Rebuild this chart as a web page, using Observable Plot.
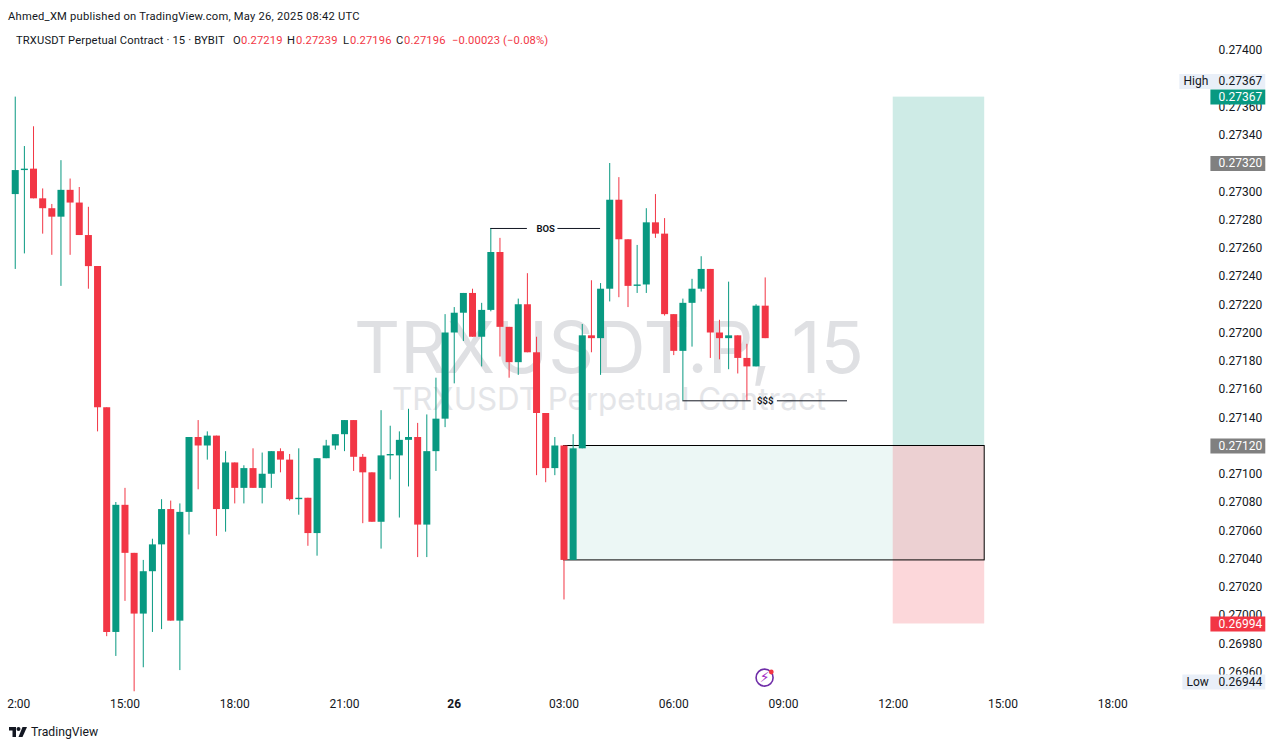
<!DOCTYPE html>
<html>
<head>
<meta charset="utf-8">
<script src="https://cdn.jsdelivr.net/npm/d3@7"></script>
<script src="https://cdn.jsdelivr.net/npm/@observablehq/plot@0.6"></script>
<style>
  html, body { margin: 0; padding: 0; background: #fff; }
  body { width: 1280px; height: 746px; overflow: hidden; font-family: Roboto, "Noto Sans", sans-serif; color: #131722; }
  #head { height: 44px; position: relative; font-size: 11.2px; }
  #l1 { position: absolute; left: 8px; top: 10px; line-height: 14px; white-space: nowrap; letter-spacing: 0.22px; }
  #l2 { position: absolute; left: 16px; top: 34px; line-height: 14px; white-space: nowrap; letter-spacing: 0.14px; }
  #l2 span { position: absolute; top: 0; }
  #l2 .r { color: #f23645; }
  #foot { height: 28px; display: flex; align-items: center; padding-left: 9px; font-size: 12.2px; font-weight: 400; gap: 4px; }
  svg { display: block; }
</style>
</head>
<body>
<div id="head">
  <div id="l1">Ahmed_XM published on TradingView.com, May 26, 2025 08:42 UTC</div>
  <div id="l2">TRXUSDT Perpetual Contract · 15 · BYBIT<span style="left:217px">O</span><span class="r" style="left:225px">0.27219</span><span style="left:271px">H</span><span class="r" style="left:280px">0.27239</span><span style="left:327px">L</span><span class="r" style="left:334px">0.27196</span><span style="left:380px">C</span><span class="r" style="left:388px">0.27196</span><span class="r" style="left:436px">−0.00023 (−0.08%)</span></div>
</div>
<div id="chart"></div>
<div id="foot"><svg width="18" height="10" viewBox="0 0 36 20"><path fill="#131722" d="M0 0h14v20H7V7H0z"/><circle cx="19" cy="4" r="4" fill="#131722"/><path fill="#131722" d="M27 0h9l-9 20h-8z"/></svg><span>TradingView</span></div>
<script>
const opens = [27298,27315,27316,27295,27288,27282,27301,27292,27269,27247,27147,26988,27078,27044,27001,27031,27050,27075,26996,27073,27126,27120,27127,27075,27108,27090,27104,27090,27100,27116,27110,27082,27083,27058,27111,27120,27128,27138,27112,27101,27066,27113,27113,27124,27126,27064,27116,27139,27200,27214,27228,27197,27216,27257,27204,27179,27220,27186,27143,27104,27120,27039,27118,27198,27196,27231,27294,27266,27233,27234,27278,27270,27213,27187,27221,27231,27245,27200,27196,27198,27182,27176,27219];
const highs = [27367,27332,27346,27302,27291,27322,27309,27303,27289,27247,27147,27080,27090,27044,27039,27054,27082,27081,27079,27126,27138,27130,27127,27116,27108,27106,27118,27115,27116,27118,27114,27118,27083,27111,27124,27128,27138,27138,27114,27101,27145,27134,27130,27146,27136,27142,27168,27213,27218,27228,27231,27221,27274,27267,27204,27224,27242,27197,27143,27126,27120,27128,27206,27237,27235,27320,27310,27266,27262,27288,27298,27281,27213,27224,27238,27254,27245,27209,27236,27198,27192,27220,27239];
const lows = [27245,27256,27295,27270,27255,27233,27255,27269,27231,27130,26985,26971,27010,26946,26963,26988,26990,26996,26961,27057,27089,27110,27056,27059,27079,27079,27090,27079,27090,27101,27081,27071,27049,27042,27111,27117,27116,27102,27065,27066,27047,27096,27069,27091,27041,27041,27102,27133,27164,27194,27197,27176,27215,27183,27168,27170,27186,27099,27094,27099,27011,27039,27118,27186,27170,27222,27225,27218,27228,27228,27267,27212,27184,27152,27190,27229,27182,27181,27174,27171,27152,27176,27196];
const closes = [27315,27316,27295,27288,27282,27301,27292,27269,27247,27147,26988,27078,27044,27001,27031,27050,27075,26996,27073,27126,27120,27127,27075,27108,27090,27104,27090,27100,27116,27110,27082,27083,27058,27111,27120,27128,27138,27112,27101,27066,27113,27114,27124,27126,27064,27116,27139,27200,27214,27228,27197,27216,27257,27204,27179,27220,27186,27143,27104,27120,27039,27118,27198,27196,27231,27294,27266,27233,27234,27278,27270,27213,27187,27221,27231,27245,27200,27196,27198,27182,27176,27219,27196];

const priceTicks = [0.274,0.2736,0.2734,0.273,0.2728,0.2726,0.2724,0.2722,0.272,0.2718,0.2716,0.2714,0.271,0.2708,0.2706,0.2704,0.2702,0.27,0.2698,0.2696];
const timeTickLabels = [[25,15,"15:00"],[25,18,"18:00"],[25,21,"21:00"],[26,0,"26"],[26,3,"03:00"],[26,6,"06:00"],[26,9,"09:00"],[26,12,"12:00"],[26,15,"15:00"],[26,18,"18:00"]];
const plateValues = [[0.27367,"#089981"],[0.2732,"#808080"],[0.2712,"#808080"],[0.26994,"#f23645"]];
const highPrice = 0.27367, lowPrice = 0.26944;
const targetTop = 0.27367, entryTop = 0.2712, entryBottom = 0.27039, stopBottom = 0.26994;
const bosPrice = 0.27274, sssPrice = 0.27152;

const T = (d, h, m = 0) => new Date(Date.UTC(2025, 4, d, h, m));
const times = opens.map((_, i) => new Date(+T(25, 12) + i * 15 * 60000));
const candles = opens.map((o, i) => ({ t: times[i], o: o / 1e5, h: highs[i] / 1e5, l: lows[i] / 1e5, c: closes[i] / 1e5,
  color: closes[i] >= opens[i] ? "#089981" : "#f23645" }));
const fmt = d3.format(".5f");
const ticks = timeTickLabels.map(([d, h, s]) => ({ t: T(d, h), s }));
const uiFont = "Roboto, 'Noto Sans', sans-serif";
const labelFs = 12;

const chart = Plot.plot({
  width: 1280, height: 674,
  marginLeft: 0, marginRight: 70, marginTop: 0, marginBottom: 28,
  style: { fontFamily: uiFont, fontSize: labelFs + "px", color: "#131722", background: "#fff" },
  x: { type: "utc", domain: [new Date(+T(25, 11, 35) + 50000), new Date(+T(26, 20, 39) + 80000)], label: null },
  y: { type: "linear", domain: [0.2740425, 0.269469], range: [0, 646], label: null },
  color: { type: "identity" },
  marks: [
    Plot.text(["TRXUSDT.P, 15"], { frameAnchor: "middle", dx: 3.5, dy: -17, fontSize: 71.5, fill: "#dfe0e3", fontFamily: "Inter, sans-serif" }),
    Plot.text(["TRXUSDT Perpetual Contract"], { frameAnchor: "middle", dx: 3.5, dy: 32, fontSize: 31.3, fill: "#e4e5e8", fontFamily: "Inter, sans-serif" }),
    Plot.rect([0], { x1: T(26, 12), x2: T(26, 14, 30), y1: entryTop, y2: targetTop, fill: "#089981", fillOpacity: 0.2 }),
    Plot.rect([0], { x1: T(26, 3), x2: T(26, 14, 30), y1: entryBottom, y2: entryTop, fill: "#089981", fillOpacity: 0.08 }),
    Plot.rect([0], { x1: T(26, 12), x2: T(26, 14, 30), y1: stopBottom, y2: entryTop, fill: "#f23645", fillOpacity: 0.2 }),
    Plot.rect([0], { x1: T(26, 3), x2: T(26, 14, 30), y1: entryBottom, y2: entryTop, fill: "none", stroke: "#000", strokeWidth: 1 }),
    Plot.ruleX(candles, { x: "t", y1: "l", y2: "h", stroke: "color", strokeWidth: 1 }),
    Plot.ruleX(candles, { x: "t", y1: "o", y2: "c", stroke: "color", strokeWidth: 7 }),
    Plot.ruleY([bosPrice], { x1: T(26, 1), x2: T(26, 2), stroke: "#131722", strokeWidth: 1 }),
    Plot.ruleY([bosPrice], { x1: T(26, 2, 50), x2: T(26, 4), stroke: "#131722", strokeWidth: 1 }),
    Plot.text(["BOS"], { x: T(26, 2, 30), y: bosPrice, fontSize: 9.5, fontWeight: 700, fill: "#131722" }),
    Plot.ruleY([sssPrice], { x1: T(26, 6, 15), x2: T(26, 8, 7), stroke: "#131722", strokeWidth: 1 }),
    Plot.ruleY([sssPrice], { x1: T(26, 8, 50), x2: T(26, 10, 45), stroke: "#131722", strokeWidth: 1 }),
    Plot.text(["$$$"], { x: T(26, 8, 30), y: sssPrice, fontSize: 9.5, fontWeight: 700, fill: "#131722" }),
    Plot.dot([0], { x: T(26, 8, 29), y: 0.26956, r: 8.5, stroke: "#6f2da8", strokeWidth: 1.6, fill: "#fff" }),
    Plot.text(["⚡"], { x: T(26, 8, 29), y: 0.26956, fontSize: 14, fill: "#a32cc4", fontFamily: "'DejaVu Sans'" }),
    Plot.dot([0], { x: T(26, 8, 40), y: 0.26960, r: 2.4, fill: "#f23645" }),
    Plot.axisX({ ticks: ticks.map(d => d.t), tickSize: 0, tickPadding: 9, label: null, fontSize: labelFs,
      tickFormat: d => ticks.find(k => +k.t === +d).s }),
    Plot.text(["2:00"], { x: T(25, 12), frameAnchor: "bottom", dx: 3.5, dy: 17, fontSize: labelFs, fill: "#131722" }),
    Plot.axisY(priceTicks, { anchor: "right", tickSize: 0, tickPadding: 8, textAnchor: "start", label: null, tickFormat: fmt }),
    Plot.ruleY([highPrice], { x1: T(26, 19, 50), x2: T(26, 22, 11), dy: -15.6, stroke: "#e9eff8", strokeWidth: 15 }),
    Plot.ruleY([lowPrice], { x1: T(26, 19, 55), x2: T(26, 22, 11), dy: -12.5, stroke: "#e9eff8", strokeWidth: 15 }),
    Plot.text(["High"], { y: highPrice, frameAnchor: "right", dx: -27, dy: -15.6, textAnchor: "start", fontSize: labelFs, fill: "#131722" }),
    Plot.text([highPrice], { y: d => d, text: fmt, frameAnchor: "right", dx: 8, dy: -15.6, textAnchor: "start", fontSize: labelFs, fill: "#131722" }),
    Plot.text(["Low"], { y: lowPrice, frameAnchor: "right", dx: -24, dy: -12.5, textAnchor: "start", fontSize: labelFs, fill: "#131722" }),
    Plot.text([lowPrice], { y: d => d, text: fmt, frameAnchor: "right", dx: 8, dy: -12.5, textAnchor: "start", fontSize: labelFs, fill: "#131722" }),
    Plot.ruleY(plateValues, { y: d => d[0], x1: T(26, 20, 41), x2: T(26, 22, 11), stroke: d => d[1], strokeWidth: 15 }),
    Plot.text(plateValues, { y: d => d[0], text: d => fmt(d[0]), frameAnchor: "right", dx: 8, textAnchor: "start", fontSize: labelFs, fill: "#fff" })
  ]
});
d3.select(chart).selectAll("text").filter(function () { return this.textContent === "26"; }).attr("font-weight", 700);
document.getElementById("chart").appendChild(chart);
</script>
</body>
</html>
